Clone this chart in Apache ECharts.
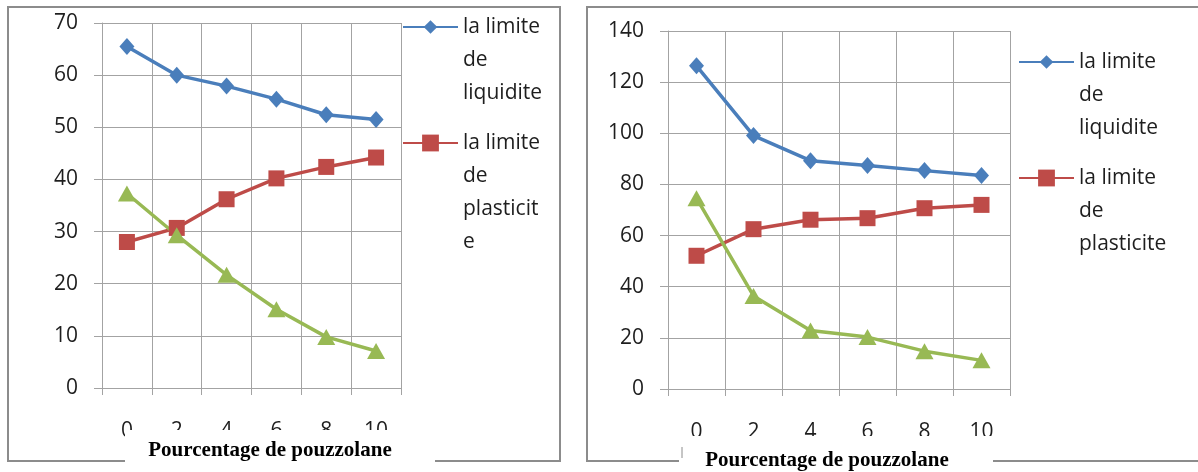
<!DOCTYPE html>
<html>
<head>
<meta charset="utf-8">
<script src="https://cdn.jsdelivr.net/npm/echarts@6/dist/echarts.min.js"></script>
<style>
html,body{margin:0;padding:0;background:#fff;}
#c{width:1198px;height:472px;}
</style>
</head>
<body>
<div id="c"></div>
<script>
// ---- data ----
const categories = ['0', '2', '4', '6', '8', '10'];
const seriesNames = ['la limite de liquidite', 'la limite de plasticite', "l'indice de plasticite"];
// left chart
const llLeft = [65.5, 60.0, 57.9, 55.4, 52.4, 51.5];
const lpLeft = [28.0, 30.7, 36.2, 40.2, 42.4, 44.2];
const ipLeft = [37.3, 29.3, 21.7, 15.1, 9.8, 7.1];
// right chart
const llRight = [126.4, 99.1, 89.3, 87.4, 85.4, 83.5];
const lpRight = [52.1, 62.5, 66.2, 66.8, 70.7, 72.0];
const ipRight = [74.6, 36.4, 22.9, 20.3, 14.8, 11.2];
// axis settings
const yLeftTicks = {min: 0, max: 70, interval: 10};
const yRightTicks = {min: 0, max: 140, interval: 20};
const xTitle = 'Pourcentage de pouzzolane';
// legend display lines (as wrapped in the reference)
const legendLinesLeft = [['la limite', 'de', 'liquidite'], ['la limite', 'de', 'plasticit', 'e']];
const legendLinesRight = [['la limite', 'de', 'liquidite'], ['la limite', 'de', 'plasticite']];

// ---- styles ----
const C_BLUE = '#4a7ebb', C_RED = '#be4b48', C_GREEN = '#98b954';
const GRID = '#a3a3a3';
const TXT = '#1e1e1e';
const FONT = 'Open Sans';
const FS = 21;
const LH = 33;

const chart = echarts.init(document.getElementById('c'), null, {renderer: 'canvas'});

function xAxis(gi) {
  return {
    type: 'category', gridIndex: gi, data: categories, boundaryGap: true,
    axisLine: {show: true, lineStyle: {color: GRID, width: 1}},
    axisTick: {show: true, length: 7, interval: 0, lineStyle: {color: GRID}},
    splitLine: {show: true, interval: 0, lineStyle: {color: GRID, width: 1}},
    axisLabel: {color: TXT, fontFamily: FONT, fontSize: FS, margin: 33, interval: 0}
  };
}
function yAxis(gi, t) {
  return {
    type: 'value', gridIndex: gi, min: t.min, max: t.max, interval: t.interval,
    axisLine: {show: true, lineStyle: {color: GRID, width: 1}},
    axisTick: {show: true, length: 8, lineStyle: {color: GRID}},
    splitLine: {show: true, lineStyle: {color: GRID, width: 1}},
    axisLabel: {color: TXT, fontFamily: FONT, fontSize: FS, margin: 24}
  };
}
function line(name, gi, data, color, symbol, size) {
  return {
    name: name, type: 'line', xAxisIndex: gi, yAxisIndex: gi, data: data,
    symbol: symbol, symbolSize: size, showSymbol: true,
    lineStyle: {color: color, width: 3.5},
    itemStyle: {color: color},
    emphasis: {disabled: true}, z: 3
  };
}
function legend(name, lines, left, iconY, ih) {
  const n = lines.length;
  // blank lines above so that the icon sits beside the first text line
  const shown = new Array(n - 1).fill(' ').concat(lines).join('\n');
  return {
    data: [name], orient: 'vertical', left: left, top: iconY - (2 * n - 1) * LH / 2,
    padding: 0, itemWidth: 55, itemHeight: ih, itemGap: 5, selectedMode: false,
    formatter: () => shown,
    textStyle: {color: TXT, fontFamily: FONT, fontSize: FS, lineHeight: LH}
  };
}

const option = {
  animation: false,
  backgroundColor: '#fff',
  grid: [
    {left: 102, top: 23, width: 299, height: 365, containLabel: false},
    {left: 668, top: 31, width: 342, height: 358, containLabel: false}
  ],
  xAxis: [xAxis(0), xAxis(1)],
  yAxis: [yAxis(0, yLeftTicks), yAxis(1, yRightTicks)],
  legend: [
    legend(seriesNames[0], legendLinesLeft[0], 402, 27, 17),
    legend(seriesNames[1], legendLinesLeft[1], 402, 143, 21),
    legend(seriesNames[0], legendLinesRight[0], 1018, 62, 17),
    legend(seriesNames[1], legendLinesRight[1], 1018, 178, 21)
  ],
  series: [
    line(seriesNames[0], 0, llLeft, C_BLUE, 'diamond', [15, 17]),
    line(seriesNames[1], 0, lpLeft, C_RED, 'rect', 16),
    line(seriesNames[2], 0, ipLeft, C_GREEN, 'triangle', [18, 16]),
    line(seriesNames[0], 1, llRight, C_BLUE, 'diamond', [15, 17]),
    line(seriesNames[1], 1, lpRight, C_RED, 'rect', 16),
    line(seriesNames[2], 1, ipRight, C_GREEN, 'triangle', [18, 16])
  ],
  graphic: [
    {type: 'rect', z: 50, silent: true, shape: {x: 8, y: 7, width: 552, height: 454},
     style: {fill: 'none', stroke: '#8c8c8c', lineWidth: 2}},
    {type: 'rect', z: 50, silent: true, shape: {x: 587, y: 7, width: 620, height: 454},
     style: {fill: 'none', stroke: '#8c8c8c', lineWidth: 2}},
    {type: 'rect', z: 60, silent: true, shape: {x: 125, y: 430, width: 310, height: 42},
     style: {fill: '#fff'}},
    {type: 'rect', z: 60, silent: true, shape: {x: 679, y: 436, width: 314, height: 36},
     style: {fill: '#fff'}},
    {type: 'line', z: 61, silent: true, shape: {x1: 682, y1: 447, x2: 682, y2: 458},
     style: {stroke: '#8c8c8c', lineWidth: 1}},
    {type: 'text', z: 62, silent: true, x: 270, y: 451,
     style: {text: xTitle, fill: '#000', font: 'bold 21px "Liberation Serif", "Times New Roman", serif', align: 'center', verticalAlign: 'middle'}},
    {type: 'text', z: 62, silent: true, x: 827, y: 461,
     style: {text: xTitle, fill: '#000', font: 'bold 21px "Liberation Serif", "Times New Roman", serif', align: 'center', verticalAlign: 'middle'}}
  ]
};
chart.setOption(option);
</script>
</body>
</html>
